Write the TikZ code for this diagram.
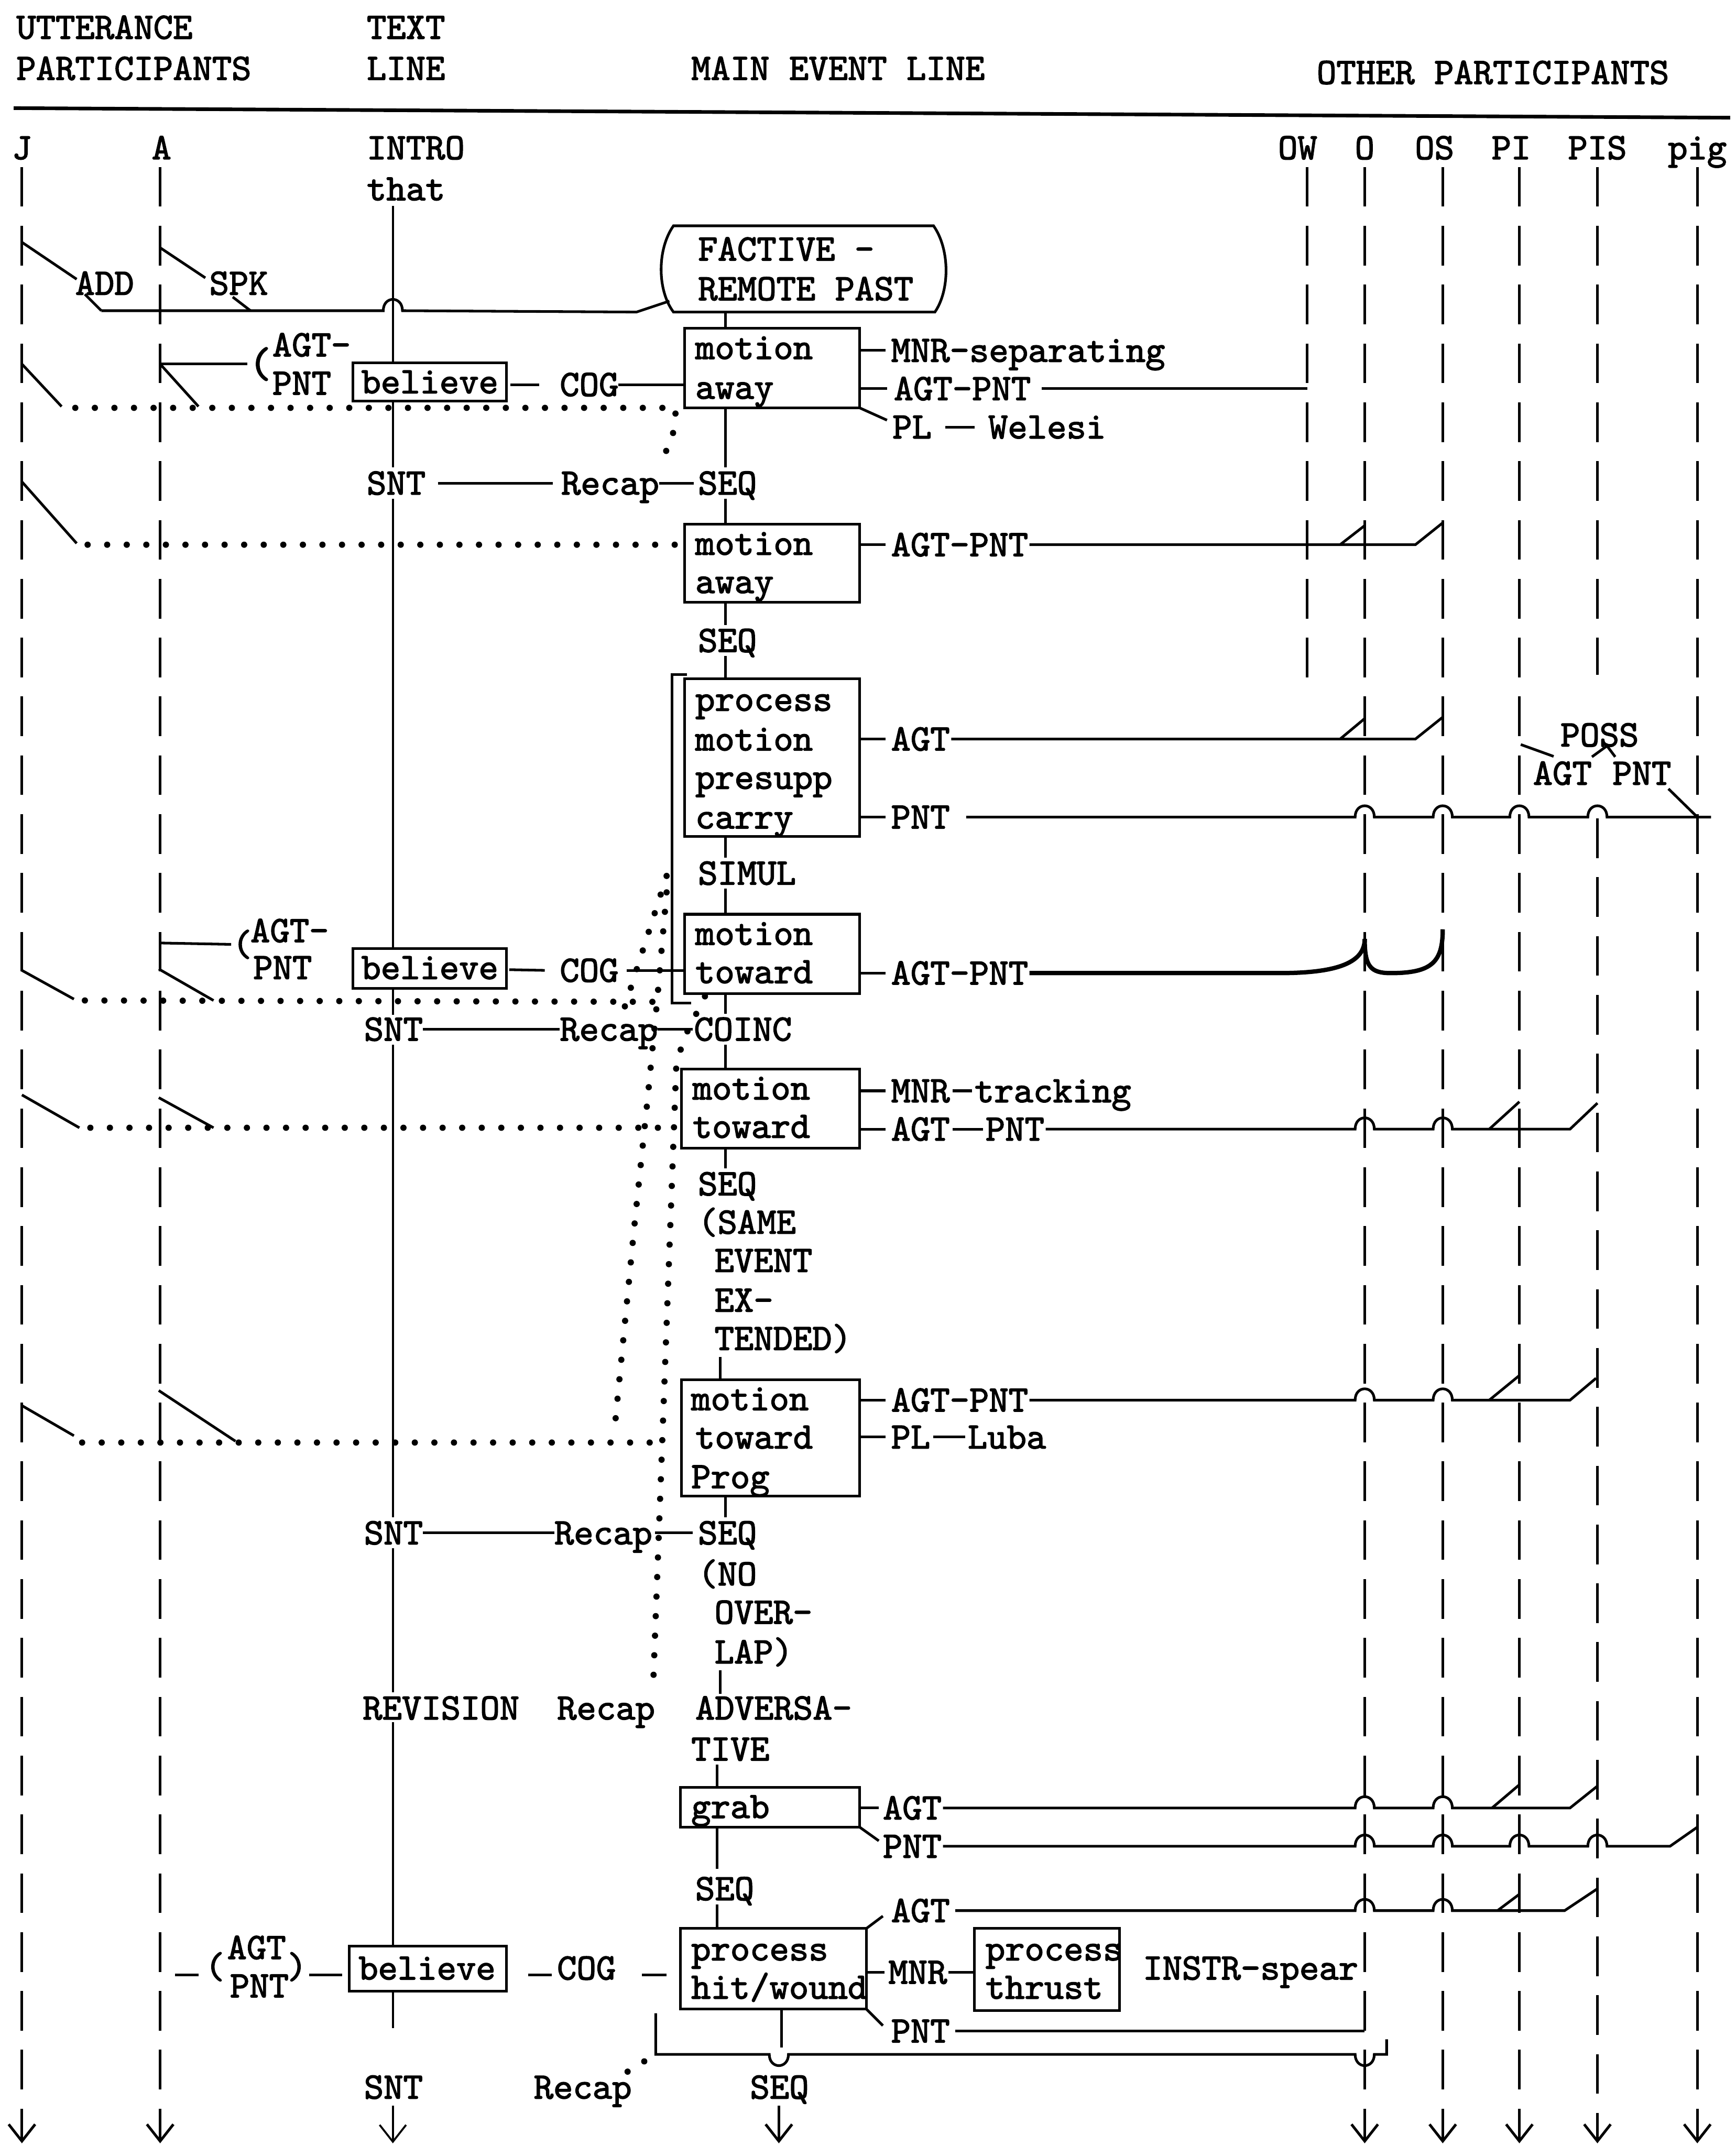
\documentclass[tikz,border=0pt]{standalone}
\usepackage{fontspec}
\newfontfamily\tw[FakeBold=2.2]{lmmono10-regular.otf}
\usetikzlibrary{arrows.meta,calc,fit}
\begin{document}
\begin{tikzpicture}[x=0.02cm,y=-0.02cm,
  t/.style={anchor=west,inner sep=0pt,outer sep=0pt,text height=9.5pt,text depth=0pt,font={\tw\fontsize{15.5}{17}\selectfont}},
  tc/.style={t,anchor=center},
  bx/.style={draw,line width=1.1pt,inner sep=0pt,outer sep=0pt},
  ln/.style={line width=1.1pt},
  heavy/.style={line width=1.8pt},
  txtline/.style={line width=0.8pt},
  dots/.style={line width=2.6pt,line cap=round,dash pattern=on 0pt off 0.286cm},
  life/.style={line width=1.1pt,dash pattern=on 0.58cm off 0.28cm},
  arr/.style={-{Straight Barb[length=7pt,width=11pt]}},
  hop/.style 2 args={insert path={-- ({#1-7},#2) .. controls ({#1-7},{#2-11}) and ({#1+7},{#2-11}) .. ({#1+7},#2)}},
  dip/.style 2 args={insert path={-- ({#1-7},#2) .. controls ({#1-7},{#2+11}) and ({#1+7},{#2+11}) .. ({#1+7},#2)}}
]
\useasboundingbox (0,0) rectangle (1268,1568);
% ---------- reference coordinates
\coordinate (top) at (0,122);
\coordinate (bot) at (0,1566);
\coordinate (owend) at (0,495);
\coordinate (pisgap1) at (0,493);
\coordinate (pisgap2) at (0,598);
\coordinate (LJ) at (16,0);
\coordinate (LA) at (117,0);
\coordinate (tl) at (287,0);
\coordinate (ml) at (530,0);
\coordinate (ml2) at (526,0);
\coordinate (ml3) at (524,0);
\coordinate (mlb) at (571,0);
\coordinate (mlb2) at (569,0);
\coordinate (LOW) at (955,0);
\coordinate (LO) at (997,0);
\coordinate (LOS) at (1054,0);
\coordinate (LPI) at (1110,0);
\coordinate (LPIS) at (1167,0);
\coordinate (Lpig) at (1240,0);
\coordinate (rl) at (10,79);
\coordinate (rr) at (1264,86);
% ---------- header
\node[t] (h1) at (12,20) {UTTERANCE};
\node[t] (h2) at (12,50) {PARTICIPANTS};
\node[t] (h3) at (268,20) {TEXT};
\node[t] (h4) at (268,50) {LINE};
\node[t] (h5) at (505,50) {MAIN EVENT LINE};
\node[t] (h6) at (962,53) {OTHER PARTICIPANTS};
\draw[line width=1.5pt] (rl) -- (rr);
% ---------- lifeline labels
\node[tc] (nJ) at (16,108) {J};
\node[tc] (nA) at (118,108) {A};
\node[t] (nINTRO) at (268,108) {INTRO};
\node[t] (nthat) at (268,138) {that};
\node[tc] (nOW) at (948,108) {OW};
\node[tc] (nO) at (997,108) {O};
\node[tc] (nOS) at (1048,108) {OS};
\node[tc] (nPI) at (1104,108) {PI};
\node[tc] (nPIS) at (1167,108) {PIS};
\node[tc] (npig) at (1240,108) {pig};
% ---------- boxes
\node[inner sep=0pt,outer sep=0pt,fit={(485,165) (690,228)}] (FACT) {};
\node[bx,fit={(500,240) (628,298)}] (MA1) {};
\node[bx,fit={(500,383) (628,440)}] (MA2) {};
\node[bx,fit={(500,496) (628,611)}] (PROC) {};
\node[bx,fit={(500,668) (628,726)}] (MT1) {};
\node[bx,fit={(498,781) (628,839)}] (MT2) {};
\node[bx,fit={(498,1008) (628,1093)}] (MT3) {};
\node[bx,fit={(497,1306) (628,1335)}] (GRAB) {};
\node[bx,fit={(497,1409) (633,1468)}] (HIT) {};
\node[bx,fit={(712,1409) (818,1469)}] (THR) {};
\node[bx,fit={(258,265) (370,293)}] (BEL1) {};
\node[bx,fit={(258,693) (370,722)}] (BEL2) {};
\node[bx,fit={(255,1422) (370,1455)}] (BEL3) {};
\draw[ln] (492,165) -- (682,165) .. controls (694,182) and (694,212) .. (683,228) -- (492,228) .. controls (480,212) and (480,182) .. (492,165) -- cycle;
% ---------- box texts
\node[t] (f1) at (510,182) {FACTIVE -};
\node[t] (f2) at (510,211) {REMOTE PAST};
\node[t] (ma1a) at (508,254) {motion};
\node[t] (ma1b) at (508,283) {away};
\node[t] (ma2a) at (508,397) {motion};
\node[t] (ma2b) at (508,425) {away};
\node[t] (pr1) at (508,511) {process};
\node[t] (pr2) at (508,540) {motion};
\node[t] (pr3) at (508,568) {presupp};
\node[t] (pr4) at (508,597) {carry};
\node[t] (mt1a) at (508,682) {motion};
\node[t] (mt1b) at (508,710) {toward};
\node[t] (mt2a) at (506,795) {motion};
\node[t] (mt2b) at (506,823) {toward};
\node[t] (mt3a) at (505,1022) {motion};
\node[t] (mt3b) at (508,1050) {toward};
\node[t] (mt3c) at (505,1079) {Prog};
\node[t] (gr) at (505,1320) {grab};
\node[t] (hi1) at (505,1424) {process};
\node[t] (hi2) at (505,1452) {hit/wound};
\node[t] (th1) at (720,1424) {process};
\node[t] (th2) at (720,1452) {thrust};
\node[tc] (b1) at (314,279) {believe};
\node[tc] (b2) at (314,707) {believe};
\node[tc] (b3) at (312,1438) {believe};
% ---------- labels right of boxes
\node[t] (MNR1) at (651,256) {MNR-separating};
\node[t] (AP1) at (653,284) {AGT-PNT};
\node[t] (PL1) at (652,312) {PL};
\node[t] (W1) at (722,312) {Welesi};
\node[t] (AP2) at (651,398) {AGT-PNT};
\node[t] (AG6) at (651,540) {AGT};
\node[t] (PN6) at (651,597) {PNT};
\node[t] (POSS) at (1140,537) {POSS};
\node[t] (AGp) at (1120,565) {AGT};
\node[t] (PNp) at (1178,565) {PNT};
\node[t] (AP8) at (651,711) {AGT-PNT};
\node[t] (MNR10) at (651,797) {MNR};
\node[t] (TRK) at (712,797) {tracking};
\node[t] (AG10) at (651,825) {AGT};
\node[t] (PN10) at (720,825) {PNT};
\node[t] (AP12) at (651,1023) {AGT-PNT};
\node[t] (PL12) at (651,1050) {PL};
\node[t] (LUBA) at (707,1050) {Luba};
\node[t] (AG15) at (645,1321) {AGT};
\node[t] (PN15) at (645,1349) {PNT};
\node[t] (AG16) at (651,1396) {AGT};
\node[t] (MNR17) at (649,1441) {MNR};
\node[t] (INSTR) at (835,1438) {INSTR-spear};
\node[t] (PN17) at (651,1484) {PNT};
% ---------- labels left / centre
\node[t] (ADD) at (55,207) {ADD};
\node[t] (SPK) at (153,207) {SPK};
\node[tc,scale=1.15] (par2) at (190,266) {(};
\node[t] (AG2) at (199,252) {AGT-};
\node[t] (PN2) at (199,280) {PNT};
\node[t] (COG1) at (409,281) {COG};
\node[t] (SNT1) at (268,353) {SNT};
\node[t] (RC1) at (410,353) {Recap};
\node[t] (SEQ1) at (510,353) {SEQ};
\node[t] (SEQ2) at (510,468) {SEQ};
\node[t] (SIMUL) at (510,638) {SIMUL};
\node[tc] (par8) at (177,690) {(};
\node[t] (AG8) at (183,680) {AGT-};
\node[t] (PN8) at (185,707) {PNT};
\node[t] (COG2) at (409,709) {COG};
\node[t] (SNT2) at (266,752) {SNT};
\node[t] (RC2) at (409,752) {Recap};
\node[t] (COINC) at (507,752) {COINC};
\node[t] (SEQ3) at (510,865) {SEQ};
\node[t] (SAME) at (510,893) {(SAME};
\node[t] (EVENT) at (522,921) {EVENT};
\node[t] (EX) at (522,950) {EX-};
\node[t] (TENDED) at (522,978) {TENDED)};
\node[t] (SNT3) at (266,1120) {SNT};
\node[t] (RC3) at (405,1120) {Recap};
\node[t] (SEQ4) at (510,1120) {SEQ};
\node[t] (NO) at (510,1150) {(NO};
\node[t] (OVER) at (522,1178) {OVER-};
\node[t] (LAP) at (522,1207) {LAP)};
\node[t] (REV) at (265,1248) {REVISION};
\node[t] (RC4) at (407,1248) {Recap};
\node[t] (ADV) at (508,1248) {ADVERSA-};
\node[t] (TIVE) at (505,1278) {TIVE};
\node[t] (SEQ5) at (508,1380) {SEQ};
\node[tc] (par17l) at (157,1437) {(};
\node[t] (AG17) at (166,1423) {AGT};
\node[t] (PN17l) at (168,1451) {PNT};
\node[tc] (par17r) at (217,1437) {)};
\node[t] (COG3) at (407,1438) {COG};
\node[t] (SNT4) at (266,1525) {SNT};
\node[t] (RC5) at (390,1525) {Recap};
\node[t] (SEQ6) at (548,1525) {SEQ};
% ---------- lifelines
\foreach \c in {LJ,LA,LO,LOS,LPI,Lpig} \draw[life,arr] (\c |- top) -- (\c |- bot);
\draw[life] (LPIS |- top) -- (LPIS |- pisgap1);
\draw[life,arr] (LPIS |- pisgap2) -- (LPIS |- bot);
\draw[life] (LOW |- top) -- (LOW |- owend);
% ---------- text line
\draw[txtline] ($(nthat.south -| tl)+(0,4)$) -- (BEL1.north -| tl);
\draw[txtline] (BEL1.south -| tl) -- ($(SNT1.north -| tl)+(0,-3)$);
\draw[txtline] ($(SNT1.south -| tl)+(0,3)$) -- (BEL2.north -| tl);
\draw[txtline] (BEL2.south -| tl) -- ($(SNT2.north -| tl)+(0,-2)$);
\draw[txtline] ($(SNT2.south -| tl)+(0,3)$) -- ($(SNT3.north -| tl)+(0,-3)$);
\draw[txtline] ($(SNT3.south -| tl)+(0,3)$) -- ($(REV.north -| tl)+(0,-3)$);
\draw[txtline] ($(REV.south -| tl)+(0,2)$) -- (BEL3.north -| tl);
\draw[txtline] (BEL3.south -| tl) -- ++(0,27);
\draw[txtline,arr] ($(SNT4.south -| tl)+(0,5)$) -- (tl |- bot);
% ---------- main event line
\draw[ln] (FACT.south -| ml) -- (MA1.north -| ml);
\draw[ln] (MA1.south -| ml) -- ($(SEQ1.north -| ml)+(0,-3)$);
\draw[ln] ($(SEQ1.south -| ml)+(0,3)$) -- (MA2.north -| ml);
\draw[ln] (MA2.south -| ml) -- ($(SEQ2.north -| ml)+(0,-3)$);
\draw[ln] ($(SEQ2.south -| ml)+(0,3)$) -- (PROC.north -| ml);
\draw[ln] (PROC.south -| ml) -- ($(SIMUL.north -| ml)+(0,-3)$);
\draw[ln] ($(SIMUL.south -| ml)+(0,3)$) -- (MT1.north -| ml);
\draw[ln] (MT1.south -| ml) -- ($(COINC.north -| ml)+(0,-3)$);
\draw[ln] ($(COINC.south -| ml)+(0,3)$) -- (MT2.north -| ml);
\draw[ln] (MT2.south -| ml) -- ($(SEQ3.north -| ml)+(0,-3)$);
\draw[ln] ($(TENDED.south -| ml2)+(0,5)$) -- (MT3.north -| ml2);
\draw[ln] (MT3.south -| ml) -- ($(SEQ4.north -| ml)+(0,-3)$);
\draw[ln] ($(LAP.south -| ml2)+(0,5)$) -- ($(ADV.north -| ml2)+(0,-2)$);
\draw[ln] ($(TIVE.south -| ml3)+(0,3)$) -- (GRAB.north -| ml3);
\draw[ln] (GRAB.south -| ml3) -- ($(SEQ5.north -| ml3)+(0,-6)$);
\draw[ln] ($(SEQ5.south -| ml3)+(0,3)$) -- (HIT.north -| ml3);
\draw[ln] (HIT.south -| mlb) -- ++(0,28);
\draw[ln,arr] ($(SEQ6.south -| mlb2)+(0,5)$) -- (mlb2 |- bot);
% ---------- SNT / Recap rows
\draw[ln] ($(SNT1.east)+(9,0)$) -- ($(RC1.west)+(-6,0)$);
\draw[ln] (RC1.east) -- ($(SEQ1.west)+(-3,0)$);
\draw[ln] (SNT2.east) -- (RC2.west);
\draw[ln] (RC2.east) -- ($(COINC.west)+(-1,0)$);
\draw[ln] (SNT3.east) -- (RC3.west);
\draw[ln] ($(RC3.east)+(2,0)$) -- ($(SEQ4.west)+(-4,0)$);
% ---------- ADD / SPK and the factive line
\draw[ln] (16,177) -- (56,204);
\draw[ln] (62,215) -- (74,227);
\draw[ln] (117,181) -- (150,203);
\draw[ln] (170,217) -- (183,227);
\draw[ln] (74,227) -- (277,227) [hop={287}{227}] -- (465,228) -- (489,220);
% ---------- left side row 2
\draw[ln] (117,266) -- ($(par2.west)+(-1,0)$);
\draw[ln] ($(BEL1.east)+(3,2)$) -- ($(COG1.west)+(-15,0)$);
\draw[ln] (COG1.east) -- (MA1.west |- COG1.east);
\draw[ln] (16,266) -- (45,297);
\draw[ln] (117,266) -- (145,297);
\draw[dots] (55,298) -- (494,298) -- (491,322) -- (480,341);
% ---------- row 4
\draw[ln] (16,352) -- (56,397);
\draw[dots] (64,398) -- (498,398);
% ---------- row 8
\draw[ln] (117,689) -- ($(par8.west)+(-1,0)$);
\draw[ln] ($(BEL2.east)+(2,1)$) -- ($(COG2.west)+(-11,0)$);
\draw[ln] ($(COG2.east)+(6,0)$) -- (MT1.west |- COG2.east);
\draw[ln] (16,709) -- (54,730);
\draw[ln] (116,708) -- (156,731);
\draw[dots] (62,731) -- (486,732);
\draw[ln] (502,493) -- (491,493) -- (491,733) -- (505,733);
% ---------- row 10 and 12
\draw[ln] (16,800) -- (58,824);
\draw[ln] (116,802) -- (156,824);
\draw[dots] (66,824) -- (494,824);
\draw[ln] (16,1027) -- (54,1049);
\draw[ln] (116,1016) -- (172,1053);
\draw[dots] (60,1054) -- (476,1054);
% ---------- long dotted links
\draw[dots] (487,640) -- (455,740);
\draw[dots] (487,652) -- (480,732) -- (473,804) -- (463,900) -- (449,1044);
\draw[dots] (515,728) -- (499,760) -- (494,780) -- (477,1236);
% ---------- stems from boxes
\draw[ln] (MA1.east |- MNR1.west) -- ($(MNR1.west)+(-4,0)$);
\draw[ln] (MA1.east |- AP1.west) -- ($(AP1.west)+(-5,0)$);
\draw[ln] (MA1.south east) -- ($(PL1.west)+(-4,-5)$);
\draw[ln] ($(PL1.east)+(10,0)$) -- ($(W1.west)+(-10,0)$);
\draw[ln] (MA2.east |- AP2.west) -- ($(AP2.west)+(-4,0)$);
\draw[ln] (PROC.east |- AG6.west) -- ($(AG6.west)+(-4,0)$);
\draw[ln] (PROC.east |- PN6.west) -- ($(PN6.west)+(-4,0)$);
\draw[ln] (MT1.east |- AP8.west) -- ($(AP8.west)+(-4,0)$);
\draw[ln] (MT2.east |- MNR10.west) -- ($(MNR10.west)+(-4,0)$);
\draw[ln] ($(MNR10.east)+(2,0)$) -- ($(TRK.west)+(-2,0)$);
\draw[ln] (MT2.east |- AG10.west) -- ($(AG10.west)+(-4,0)$);
\draw[ln] ($(AG10.east)+(2,0)$) -- ($(PN10.west)+(-2,0)$);
\draw[ln] (MT3.east |- AP12.west) -- ($(AP12.west)+(-4,0)$);
\draw[ln] (MT3.east |- PL12.west) -- ($(PL12.west)+(-4,0)$);
\draw[ln] ($(PL12.east)+(2,0)$) -- ($(LUBA.west)+(-2,0)$);
\draw[ln] (GRAB.east |- AG15.west) -- ($(AG15.west)+(-3,0)$);
\draw[ln] (GRAB.south east) -- ($(PN15.west)+(-3,-4)$);
\draw[ln] (HIT.north east) -- ($(AG16.west)+(-6,4)$);
\draw[ln] (HIT.east |- MNR17.west) -- ($(MNR17.west)+(-3,0)$);
\draw[ln] ($(MNR17.east)+(1,0)$) -- (THR.west |- MNR17.east);
\draw[ln] (HIT.south east) -- ($(PN17.west)+(-6,-4)$);
% ---------- trails to other participants
\draw[ln] ($(AP1.east)+(8,0)$) -- (LOW |- AP1.east);
\draw[ln] ($(AP2.east)+(1,0)$) -- (1034,398) -- (1054,382);
\draw[ln] (979,398) -- (997,384);
\draw[ln] ($(AG6.east)+(1,0)$) -- (1034,540) -- (1054,524);
\draw[ln] (979,540) -- (997,525);
\draw[ln] ($(PN6.east)+(12,0)$) [hop={997}{597}] [hop={1054}{597}] [hop={1110}{597}] [hop={1167}{597}] -- (1250,597);
\draw[ln] ($(PNp.south east)+(-2,3)$) -- (Lpig |- PN6.east);
\draw[ln] (1111,544) -- ($(AGp.north west)+(15,-4)$);
\draw[ln] (1163,553) -- (1174,545) -- (1180,553);
\draw[heavy] ($(AP8.east)+(1,0)$) -- (935,711) .. controls (978,711) and (997,703) .. (997,686);
\draw[heavy] (997,686) .. controls (997,706) and (1001,711) .. (1016,711) .. controls (1046,711) and (1054,703) .. (1054,679);
\draw[ln] ($(PN10.east)+(1,0)$) [hop={997}{825}] [hop={1054}{825}] -- (1147,825) -- (1167,806);
\draw[ln] (1088,825) -- (1110,805);
\draw[ln] ($(AP12.east)+(1,0)$) [hop={997}{1023}] [hop={1054}{1023}] -- (1147,1023) -- (1166,1007);
\draw[ln] (1088,1023) -- (1110,1005);
\draw[ln] ($(AG15.east)+(1,0)$) [hop={997}{1321}] [hop={1054}{1321}] -- (1147,1321) -- (1167,1305);
\draw[ln] (1090,1321) -- (1110,1304);
\draw[ln] ($(PN15.east)+(1,0)$) [hop={997}{1349}] [hop={1054}{1349}] [hop={1110}{1349}] [hop={1167}{1349}] -- (1220,1349) -- (1240,1335);
\draw[ln] ($(AG16.east)+(4,0)$) [hop={997}{1396}] [hop={1054}{1396}] -- (1143,1396) -- (1167,1380);
\draw[ln] (1094,1396) -- (1110,1384);
\draw[ln] ($(PN17.east)+(4,0)$) -- (LO |- PN17.east);
% ---------- bottom row left side
\draw[ln] (128,1443) -- (145,1443);
\draw[ln] (226,1443) -- (250,1443);
\draw[ln] (386,1443) -- (403,1443);
\draw[ln] (469,1443) -- (487,1443);
% ---------- closing bracket and recap
\draw[ln] (479,1471) -- (479,1501) -- (562,1501) [dip={569}{1501}] -- (990,1501) [dip={997}{1501}] -- (1013,1501) -- (1013,1490);
\draw[dots] ($(RC5.north east)+(-3,-3)$) -- (479,1501);
\end{tikzpicture}
\end{document}
